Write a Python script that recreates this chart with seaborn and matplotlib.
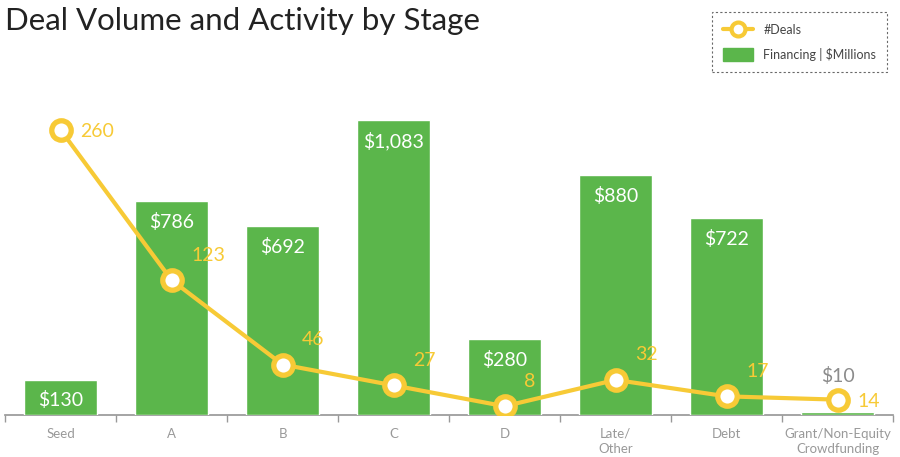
import matplotlib
matplotlib.use("Agg")
import matplotlib.pyplot as plt
import seaborn as sns
import pandas as pd
from matplotlib.lines import Line2D
from matplotlib.patches import Patch

stages = ["Seed", "A", "B", "C", "D", "Late/\nOther", "Debt", "Grant/Non-Equity\nCrowdfunding"]
financing = [130, 786, 692, 1083, 280, 880, 722, 10]
deals = [260, 123, 46, 27, 8, 32, 17, 14]

GREEN = "#5bb64b"
YELLOW = "#f7ca36"
GREY = "#8c8c8c"

sns.set_theme(style="white")
plt.rcParams["font.family"] = ["Lato", "DejaVu Sans"]

df = pd.DataFrame({"stage": stages, "financing": financing, "deals": deals})

fig = plt.figure(figsize=(9, 4.57), dpi=100)
ax = fig.add_axes([0.0056, 0.0919, 0.9867, 0.744])

sns.barplot(data=df, x="stage", y="financing", color=GREEN, saturation=1,
            width=0.66, ax=ax, zorder=3)
ax.set_ylim(0, 1248)
ax.set_xlim(-0.5, len(stages) - 0.5)

for i, v in enumerate(financing):
    if v > 100:
        ax.annotate(f"${v:,}", (i, v), xytext=(0, -15), textcoords="offset points",
                    ha="center", va="center", color="white", fontsize=14)
    else:
        ax.annotate(f"${v:,}", (i, v), xytext=(0, 26), textcoords="offset points",
                    ha="center", va="center", color=GREY, fontsize=14)

ax2 = ax.twinx()
sns.lineplot(x=list(range(len(stages))), y=deals, ax=ax2, color=YELLOW, lw=3,
             marker="o", markersize=14, markerfacecolor="white",
             markeredgecolor=YELLOW, markeredgewidth=3.8)
ax2.set_ylim(0, 310)

for i, v in enumerate(deals):
    if i == 0 or i == len(deals) - 1:
        off = (14, -1)
    else:
        off = (14, 18)
    ax2.annotate(str(v), (i, v), xytext=off, textcoords="offset points",
                 ha="left", va="center", color=YELLOW, fontsize=14)

for a in (ax, ax2):
    for s in ["top", "right", "left"]:
        a.spines[s].set_visible(False)
    a.set_yticks([])
    a.set_ylabel("")
ax2.spines["bottom"].set_visible(False)
ax.spines["bottom"].set_color("#999999")
ax.spines["bottom"].set_zorder(1)
ax.set_xlabel("")
ax.set_xticks(range(len(stages)))
ax.set_xticklabels(stages, color="#999999", fontsize=9.5, linespacing=1.3)
ax.set_xticks([i - 0.5 for i in range(len(stages) + 1)], minor=True)
ax.tick_params(axis="x", which="major", length=0, pad=9)
ax.tick_params(axis="x", which="minor", length=5, color="#999999", bottom=True)

fig.text(0.006, 0.955, "Deal Volume and Activity by Stage", fontsize=22.5,
         color="#222222", va="center", ha="left")

handles = [
    Line2D([0], [0], color=YELLOW, lw=3, marker="o", markersize=10,
           markerfacecolor="white", markeredgecolor=YELLOW, markeredgewidth=3),
    Patch(facecolor=GREEN, edgecolor=GREEN),
]
leg = fig.legend(handles, ["#Deals", "Financing | $Millions"], loc="upper right",
                 bbox_to_anchor=(0.993, 0.987), frameon=True, fontsize=9,
                 handlelength=2.4, handleheight=1.2, borderpad=0.9,
                 labelspacing=0.9, fancybox=False)
leg.get_frame().set_linestyle((0, (2, 2)))
leg.get_frame().set_edgecolor("#444444")
leg.get_frame().set_linewidth(0.8)
for t in leg.get_texts():
    t.set_color("#444444")

fig.savefig("out.png", dpi=100)
